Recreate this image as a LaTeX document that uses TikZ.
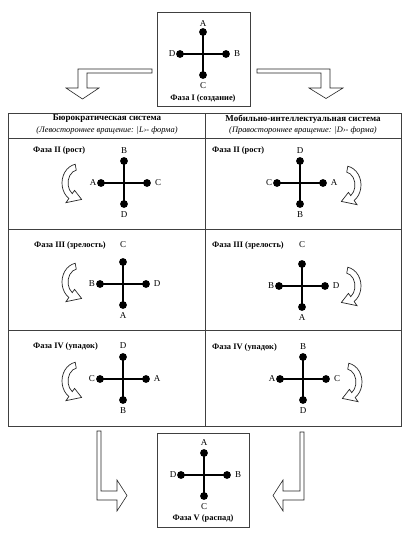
\documentclass[tikz,border=0pt]{standalone}
\usepackage{fontspec}
\setmainfont{Liberation Serif}
\usetikzlibrary{calc}
\newcommand\xcross[8]{%
 \coordinate (#1c) at (#2,#3);
 \node[dot] (#1t) at (#2,{#3-22}) {};
 \node[dot] (#1b) at (#2,{#3+21}) {};
 \node[dot] (#1l) at ({#2-23},#3) {};
 \node[dot] (#1r) at ({#2+23},#3) {};
 \draw[bar] (#1t.center) -- (#1b.center);
 \draw[bar] (#1l.center) -- (#1r.center);
 \node[lab] (#1tl) at (#2,#8) {#4};
 \node[lab] (#1rl) at ({#2+34},#3) {#5};
 \node[lab] (#1bl) at (#2,{#3+32}) {#6};
 \node[lab] (#1ll) at ({#2-31},#3) {#7};
}
\newcommand\curvL[2]{%
 \draw[curv] ({#1+16*cos(260)},{#2+19*sin(260)}) arc[start angle=260,end angle=125,x radius=16,y radius=19]
  -- ({#1+21*cos(125)},{#2+24*sin(125)})
  -- ({#1+14*cos(75)},{#2+17*sin(75)})
  -- ({#1+6*cos(125)},{#2+9*sin(125)})
  -- ({#1+10*cos(125)},{#2+13*sin(125)})
  arc[start angle=125,end angle=260,x radius=10,y radius=13] -- cycle;}
\newcommand\curvR[2]{%
 \draw[curv] ({#1+16*cos(280)},{#2+19*sin(280)}) arc[start angle=280,end angle=415,x radius=16,y radius=19]
  -- ({#1+21*cos(55)},{#2+24*sin(55)})
  -- ({#1+14*cos(105)},{#2+17*sin(105)})
  -- ({#1+6*cos(55)},{#2+9*sin(55)})
  -- ({#1+10*cos(55)},{#2+13*sin(55)})
  arc[start angle=415,end angle=280,x radius=10,y radius=13] -- cycle;}
\begin{document}
\begin{tikzpicture}[x=1pt,y=-1pt,
  dot/.style={circle,fill=black,inner sep=0pt,minimum size=7.8pt},
  lab/.style={inner sep=0pt,font=\fontsize{9}{10}\selectfont},
  ttl/.style={inner sep=0pt,font=\fontsize{8.4}{10}\selectfont\bfseries},
  hdr/.style={inner sep=0pt,font=\fontsize{9}{10}\selectfont\bfseries},
  sub/.style={inner sep=0pt,font=\fontsize{8.4}{10}\selectfont\itshape},
  frame/.style={draw=black!75,line width=0.8pt},
  bar/.style={line width=1.2pt},
  blk/.style={draw=black!85,fill=white,line width=0.6pt,line join=miter},
  curv/.style={draw=black!85,fill=white,line width=0.7pt}]
\useasboundingbox (0,0) rectangle (408,535);

% boxes
\node[frame,minimum width=93pt,minimum height=94pt,inner sep=0pt] (topbox) at (203.5,59) {};
\node[frame,minimum width=92pt,minimum height=94pt,inner sep=0pt] (botbox) at (203,480) {};

% table
\draw[frame] (8,113) rectangle (401,426);
\draw[frame] (8,138) -- (401,138);
\draw[frame] (8,229) -- (401,229);
\draw[frame] (8,330) -- (401,330);
\draw[frame] (205,113) -- (205,426);

\node[hdr] (h1) at (107,119) {Бюрократическая система};
\node[sub] (s1) at (107,130) {(Левостороннее вращение: |L›- форма)};
\node[hdr] (h2) at (303,119) {Мобильно-интеллектуальная система};
\node[sub] (s2) at (303,130) {(Правостороннее вращение: |D›- форма)};

% straight block arrows
\draw[blk] (152,69) -- (78,69) -- (78,88) -- (66,88) -- (82.5,99) -- (99,88) -- (87,88) -- (87,73) -- (152,73) -- cycle;
\draw[blk] (257,69) -- (330,69) -- (330,88) -- (343,88) -- (326,98.5) -- (309,88) -- (321,88) -- (321,73) -- (257,73) -- cycle;
\draw[blk] (97,431) -- (97,500) -- (117,500) -- (117,511) -- (127,495.5) -- (117,480) -- (117,491) -- (101,491) -- (101,431) -- cycle;
\draw[blk] (304,432) -- (304,500) -- (283,500) -- (283,511) -- (273,495.5) -- (283,480) -- (283,491) -- (300,491) -- (300,432) -- cycle;

% crosses
\xcross{p1}{203}{54}{A}{B}{C}{D}{24}
\node[ttl] (cap1) at (203,98) {Фаза I (создание)};
\xcross{lb}{124}{183}{B}{C}{D}{A}{151}
\xcross{rb}{300}{183}{D}{A}{B}{C}{151}
\xcross{lc}{123}{284}{C}{D}{A}{B}{245}
\xcross{rc}{302}{286}{C}{D}{A}{B}{245}
\xcross{ld}{123}{379}{D}{A}{B}{C}{346}
\xcross{rd}{303}{379}{B}{C}{D}{A}{347}
\xcross{p5}{204}{475}{A}{B}{C}{D}{443}
\node[ttl] (cap5) at (203,518) {Фаза V (распад)};

% row titles
\node[ttl,anchor=west] (tlb) at (33,150) {Фаза II (рост)};
\node[ttl,anchor=west] (trb) at (212,150) {Фаза II (рост)};
\node[ttl,anchor=west] (tlc) at (34,245) {Фаза III (зрелость)};
\node[ttl,anchor=west] (trc) at (212,245) {Фаза III (зрелость)};
\node[ttl,anchor=west] (tld) at (33,346) {Фаза IV (упадок)};
\node[ttl,anchor=west] (trd) at (212,347) {Фаза IV (упадок)};

% curved arrows
\curvL{78}{183}
\curvL{78}{282}
\curvL{78}{381}
\curvR{345}{185}
\curvR{345}{286}
\curvR{346}{382}
\end{tikzpicture}
\end{document}
